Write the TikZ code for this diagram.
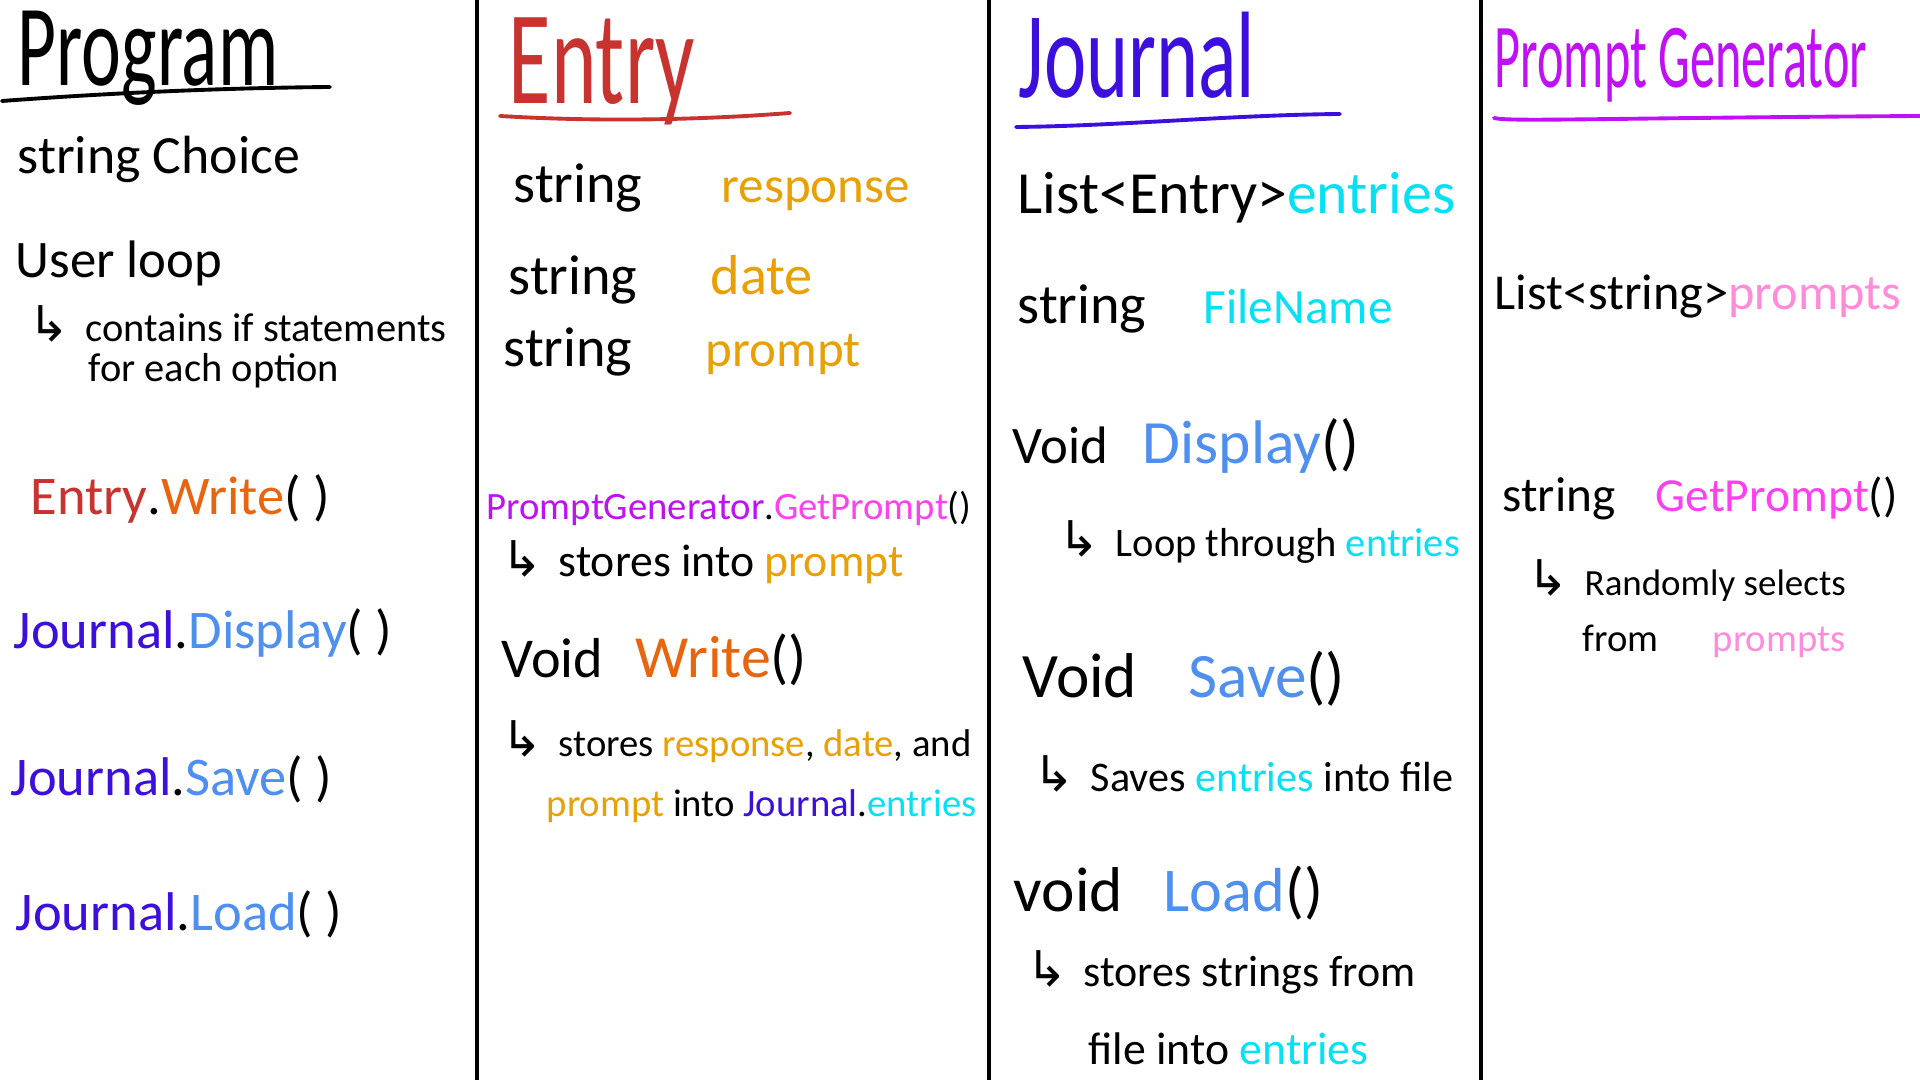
\documentclass[tikz,border=0pt]{standalone}
\usepackage{fontspec}
\setmainfont{Carlito}
\newfontfamily\headfont{Carlito}[FakeStretch=0.65]
\newfontfamily\tallfont{Carlito}[FakeStretch=0.55]
\newfontfamily\arrowfont{DejaVu Sans}

\definecolor{entryred}{HTML}{C8322F}
\definecolor{writeorange}{HTML}{E8650F}
\definecolor{jrnblue}{HTML}{3C0FDC}
\definecolor{methblue}{HTML}{4F8FF0}
\definecolor{fieldgold}{HTML}{E8A005}
\definecolor{entcyan}{HTML}{05E0F5}
\definecolor{pgpurple}{HTML}{C010F5}
\definecolor{gppink}{HTML}{FF40F0}
\definecolor{ppink}{HTML}{FF8CD8}

\newcommand{\fsz}[1]{\fontsize{#1}{#1}\selectfont}

\begin{document}
\begin{tikzpicture}[x=0.01cm, y=-0.01cm,
    txt/.style={anchor=base west, inner sep=0pt},
    ttl/.style={txt, font=\headfont\fsz{#1}},
    mem/.style={txt, font=\fsz{#1}},
    hook/.style={anchor=base east, inner sep=0pt, font=\arrowfont\fsz{14}},
    uline/.style={line width=1.1pt, line cap=round}]

    % Page
    \fill[white] (0,0) rectangle (1920,1080);
    \useasboundingbox (0,0) rectangle (1920,1080);

    % Column dividers
    \foreach \xd in {477,989,1481}
        \draw[line width=1.2pt] (\xd,0) -- (\xd,1080);

    % Program
    \node[ttl=33] (prog) at (17,86) {Program};
    \draw[uline] (2,101) .. controls (110,93) and (220,88) .. (330,87);
    \node[mem=15.3] (choice) at (17,174) {string Choice};
    \node[mem=15] (uloop) at (15,278) {User loop};
    \node[mem=11.5] (contains) at (85,342) {contains if statements};
    \node[hook] (h1) at ([xshift=-4pt]contains.base west) {↳};
    \node[mem=11.5] (option) at (88,382) {for each option};
    \node[mem=15.5] (ewrite) at (30,515) {\textcolor{entryred}{Entry}.\textcolor{writeorange}{Write}( )};
    \node[mem=15.5] (jdisp) at (13,649) {\textcolor{jrnblue}{Journal}.\textcolor{methblue}{Display}( )};
    \node[mem=15.5] (jsave) at (10,796) {\textcolor{jrnblue}{Journal}.\textcolor{methblue}{Save}( )};
    \node[mem=15.5] (jload) at (15,931) {\textcolor{jrnblue}{Journal}.\textcolor{methblue}{Load}( )};

    % Entry
    \node[ttl=38, text=entryred] (entry) at (508,104) {Entry};
    \draw[uline, entryred] (500,116) .. controls (600,122) and (700,120) .. (790,113);
    \node[mem=16] (s1) at (513,203) {string};
    \node[mem=14.5, text=fieldgold] (resp) at (721,203) {response};
    \node[mem=16] (s2) at (508,295) {string};
    \node[mem=16, text=fieldgold] (date) at (710,295) {date};
    \node[mem=16] (s3) at (503,367) {string};
    \node[mem=14.5, text=fieldgold] (prompt) at (705,367) {prompt};
    \node[mem=11] (pgget) at (486,520) {\textcolor{pgpurple}{PromptGenerator}.\textcolor{gppink}{GetPrompt}()};
    \node[mem=13] (storep) at (558,577) {stores into \textcolor{fieldgold}{prompt}};
    \node[hook] (h2) at ([xshift=-4pt]storep.base west) {↳};
    \node[mem=16] (void1) at (501,678) {Void};
    \node[mem=17] (write) at (635,678) {\textcolor{writeorange}{Write}()};
    \node[mem=11] (stores1) at (558,757) {stores \textcolor{fieldgold}{response}, \textcolor{fieldgold}{date}, and};
    \node[hook] (h3) at ([xshift=-4pt]stores1.base west) {↳};
    \node[mem=11] (stores2) at (546,817) {\textcolor{fieldgold}{prompt} into \textcolor{jrnblue}{Journal}.\textcolor{entcyan}{entries}};

    % Journal
    \node[ttl=35, text=jrnblue] (journal) at (1018,98) {Journal};
    \draw[uline, jrnblue] (1016,127) .. controls (1120,126) and (1230,115) .. (1340,114);
    \node[mem=17] (list1) at (1017,214) {List<Entry>\textcolor{entcyan}{entries}};
    \node[mem=16] (s4) at (1017,324) {string};
    \node[mem=14, text=entcyan] (fname) at (1203,324) {FileName};
    \node[mem=15] (void2) at (1012,464) {Void};
    \node[mem=17.5] (disp) at (1142,464) {\textcolor{methblue}{Display}()};
    \node[mem=11.5] (loopthr) at (1115,557) {Loop through \textcolor{entcyan}{entries}};
    \node[hook] (h4) at ([xshift=-4pt]loopthr.base west) {↳};
    \node[mem=18] (void3) at (1022,698) {Void};
    \node[mem=18] (save) at (1188,698) {\textcolor{methblue}{Save}()};
    \node[mem=12] (saves) at (1090,792) {Saves \textcolor{entcyan}{entries} into file};
    \node[hook] (h5) at ([xshift=-4pt]saves.base west) {↳};
    \node[mem=18] (void4) at (1013,912) {void};
    \node[mem=17.7] (load) at (1163,912) {\textcolor{methblue}{Load}()};
    \node[mem=12.5] (strfrom) at (1083,987) {stores strings from};
    \node[hook] (h6) at ([xshift=-4pt]strfrom.base west) {↳};
    \node[mem=13] (fileinto) at (1088,1065) {file into \textcolor{entcyan}{entries}};

    % Prompt Generator
    \node[txt, font=\tallfont\fsz{26}, text=pgpurple] (pgen) at (1494,88) {Prompt Generator};
    \draw[uline, pgpurple] (1494,118) .. controls (1510,122) and (1600,118) .. (1920,116);
    \node[mem=14.3] (list2) at (1494,310) {List<string>\textcolor{ppink}{prompts}};
    \node[mem=14] (s5) at (1502,512) {string};
    \node[mem=13.5] (getp) at (1655,512) {\textcolor{gppink}{GetPrompt}()};
    \node[mem=10.5] (rand) at (1584,596) {Randomly selects};
    \node[hook] (h7) at ([xshift=-4pt]rand.base west) {↳};
    \node[mem=11] (from) at (1582,652) {from};
    \node[mem=11, text=ppink] (prompts2) at (1712,652) {prompts};

\end{tikzpicture}
\end{document}
